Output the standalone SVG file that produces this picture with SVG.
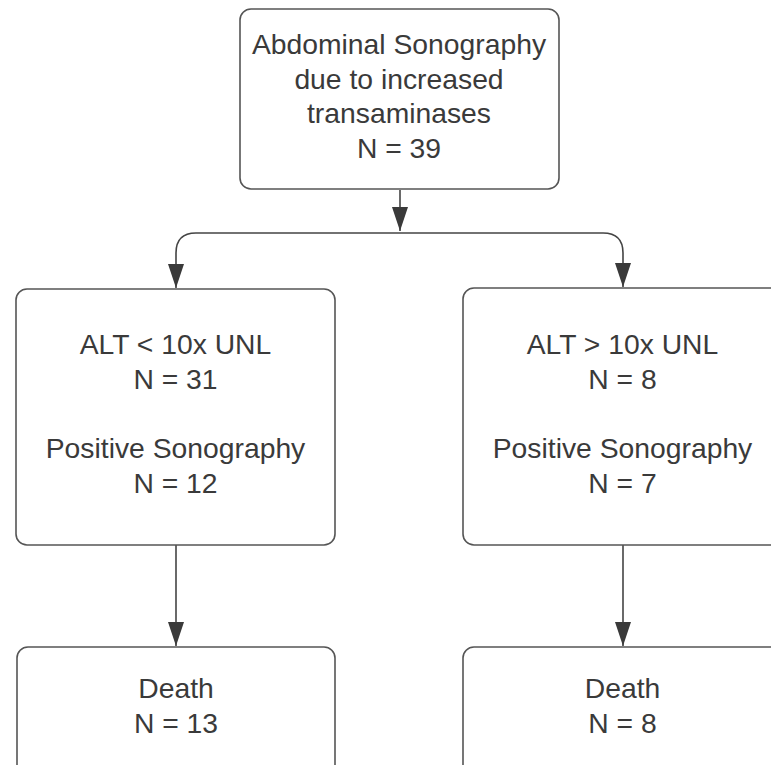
<svg xmlns="http://www.w3.org/2000/svg" width="771" height="765" viewBox="0 0 771 765">
<style>
.box{fill:#ffffff;stroke:#555555;stroke-width:1.6}
.t{font-family:"Liberation Sans",Arial,sans-serif;font-size:28.3px;fill:#3a3a3a;text-anchor:middle}
.c{fill:none;stroke:#444444;stroke-width:1.6}
</style>
<defs>
<marker id="ah" viewBox="0 0 24 16" refX="24" refY="8" markerWidth="24" markerHeight="16" markerUnits="userSpaceOnUse" orient="auto">
<path d="M0,0 L24,8 L0,16 z" fill="#3a3a3a"/>
</marker>
</defs>
<rect width="771" height="765" fill="#ffffff"/>
<g id="connectors">
<path class="c" d="M400,190 V231" marker-end="url(#ah)"/>
<path class="c" d="M400,233 H196 Q176,233 176,253 V288" marker-end="url(#ah)"/>
<path class="c" d="M400,233 H603 Q623,233 623,253 V287" marker-end="url(#ah)"/>
<path class="c" d="M176,545 V646" marker-end="url(#ah)"/>
<path class="c" d="M623,545 V646" marker-end="url(#ah)"/>
</g>
<g id="top">
<rect class="box" x="240" y="9" width="319" height="180" rx="11"/>
<text class="t" x="399" y="54">Abdominal Sonography</text>
<text class="t" x="399" y="89">due to increased</text>
<text class="t" x="399" y="123">transaminases</text>
<text class="t" x="399" y="158">N = 39</text>
</g>
<g id="left">
<rect class="box" x="16" y="289" width="319" height="256" rx="11"/>
<text class="t" x="175.5" y="354">ALT &lt; 10x UNL</text>
<text class="t" x="175.5" y="389">N = 31</text>
<text class="t" x="175.5" y="458">Positive Sonography</text>
<text class="t" x="175.5" y="493">N = 12</text>
</g>
<g id="right">
<rect class="box" x="463" y="288" width="320" height="257" rx="11"/>
<text class="t" x="622.5" y="354">ALT &gt; 10x UNL</text>
<text class="t" x="622.5" y="389">N = 8</text>
<text class="t" x="622.5" y="458">Positive Sonography</text>
<text class="t" x="622.5" y="493">N = 7</text>
</g>
<g id="death-left">
<rect class="box" x="17" y="647" width="318" height="140" rx="11"/>
<text class="t" x="176" y="698">Death</text>
<text class="t" x="176" y="733">N = 13</text>
</g>
<g id="death-right">
<rect class="box" x="463" y="647" width="320" height="140" rx="11"/>
<text class="t" x="622.5" y="698">Death</text>
<text class="t" x="622.5" y="733">N = 8</text>
</g>
</svg>
